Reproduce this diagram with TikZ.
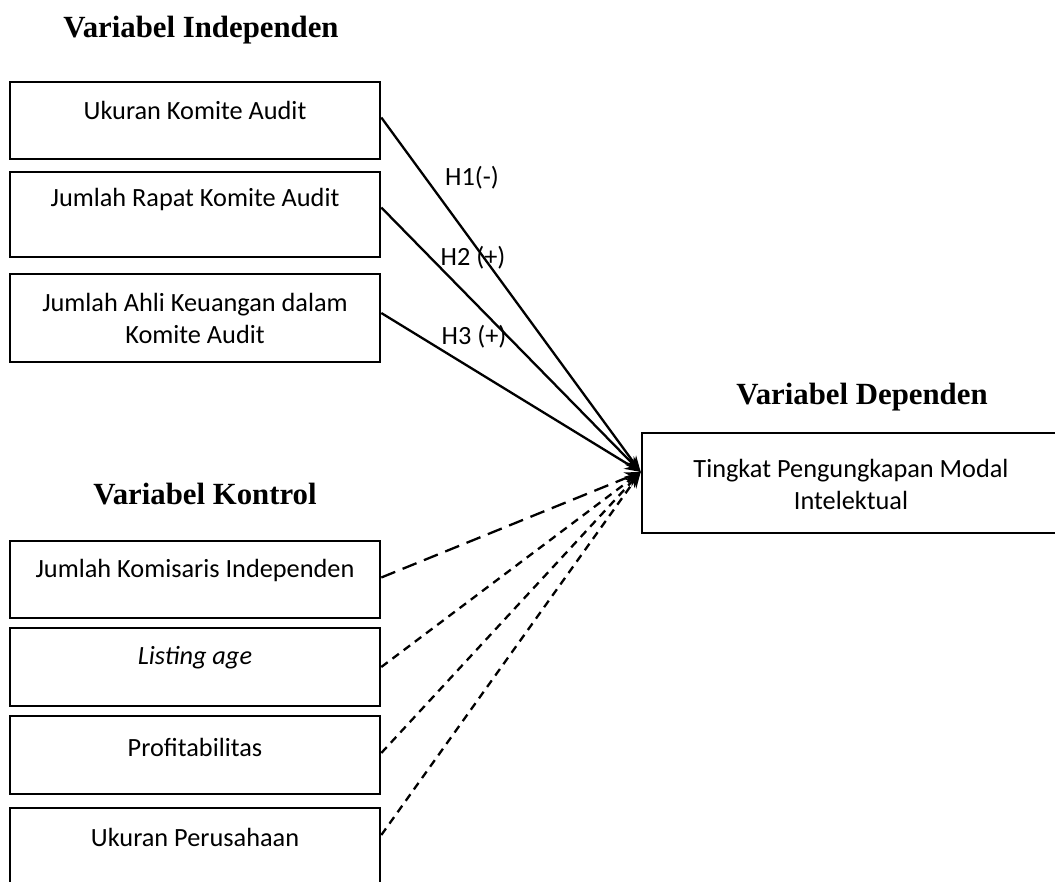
\documentclass[tikz,border=0pt]{standalone}
\usepackage{fontspec}
\setmainfont{Carlito}
\newfontfamily\titlefont{Liberation Serif}
\usetikzlibrary{arrows.meta}
\begin{document}
\begin{tikzpicture}[x=1pt,y=-1pt,
  box/.style={draw,line width=2.6pt,minimum width=370pt,inner sep=0pt},
  txt/.style={font=\fontsize{26.3}{32}\selectfont,align=center,inner sep=0pt},
  ttl/.style={font=\titlefont\bfseries\fontsize{30.8}{36}\selectfont,inner sep=0pt},
  conn/.style={line width=2.3pt,-{Stealth[length=16pt,width=12pt]}},
  longdash/.style={conn,dash pattern=on 15pt off 8pt},
  shortdash/.style={conn,dash pattern=on 8pt off 6pt}]
\useasboundingbox (0,0) rectangle (1055,881);
\begin{scope}
\clip (0,0) rectangle (1055,881);
% titles
\node[ttl] (t1) at (201,30) {Variabel Independen};
\node[ttl] (t2) at (862,397) {Variabel Dependen};
\node[ttl] (t3) at (205,494) {Variabel Kontrol};
% independent boxes
\node[box,minimum height=77pt] (b1) at (195,120.5) {};
\node[txt] (x1) at (195,110) {Ukuran Komite Audit};
\node[box,minimum height=85pt] (b2) at (195,214.5) {};
\node[txt] (x2) at (195,199) {Jumlah Rapat Komite Audit};
\node[box,minimum height=88pt] (b3) at (195,318) {};
\node[txt] (x3) at (195,318) {Jumlah Ahli Keuangan dalam\\Komite Audit};
% dependent box
\node[box,minimum width=418pt,minimum height=100pt] (dep) at (851,483) {};
\node[txt] (xd) at (851,484) {Tingkat Pengungkapan Modal\\Intelektual};
\coordinate (tgt) at ([yshift=11pt]dep.west);
% control boxes
\node[box,minimum height=77pt] (b4) at (195,579.5) {};
\node[txt] (x4) at (195,570) {Jumlah Komisaris Independen};
\node[box,minimum height=78pt] (b5) at (195,667) {};
\node[txt] (x5) at (195,658) {\itshape Listing age};
\node[box,minimum height=78pt] (b6) at (195,755) {};
\node[txt] (x6) at (195,747) {Profitabilitas};
\node[box,minimum height=90pt] (b7) at (195,853) {};
\node[txt] (x7) at (195,837) {Ukuran Perusahaan};
% connectors
\draw[conn] ([yshift=3pt]b1.east) -- (tgt);
\draw[conn] ([yshift=7pt]b2.east) -- (tgt);
\draw[conn] ([yshift=5pt]b3.east) -- (tgt);
\draw[longdash] ([yshift=2pt]b4.east) -- (tgt);
\draw[shortdash] (b5.east) -- (tgt);
\draw[shortdash] ([yshift=2pt]b6.east) -- (tgt);
\draw[shortdash] ([yshift=18pt]b7.east) -- (tgt);
% labels
\node[txt] (h1) at (472,178) {H1(-)};
\node[txt] (h2) at (473,258) {H2 (+)};
\node[txt] (h3) at (474,337) {H3 (+)};
\end{scope}
\end{tikzpicture}
\end{document}
